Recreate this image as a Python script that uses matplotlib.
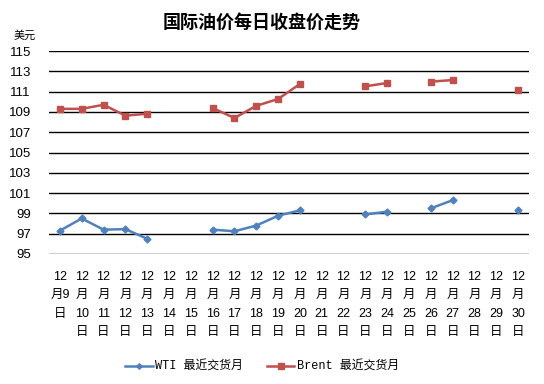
import matplotlib
matplotlib.use("Agg")
import matplotlib.pyplot as plt
import numpy as np

days = list(range(9, 31))
categories = [f"12月{d}日" for d in days]
tick_labels = ["12\n月9\n日"] + [f"12\n月\n{d}\n日" for d in days[1:]]
nan = np.nan
wti = [97.3, 98.5, 97.4, 97.45, 96.5, nan, nan, 97.4, 97.24, 97.8, 98.77, 99.3,
       nan, nan, 98.9, 99.17, nan, 99.5, 100.3, nan, nan, 99.3]
brent = [109.3, 109.3, 109.7, 108.63, 108.82, nan, nan, 109.38, 108.4, 109.6, 110.27, 111.75,
         nan, nan, 111.52, 111.85, nan, 111.98, 112.14, nan, nan, 111.16]
yticks = list(range(95, 116, 2))
series_names = ["WTI 最近交货月", "Brent 最近交货月"]

W, H = 544, 384
fig = plt.figure(figsize=(W / 100, H / 100), dpi=100)
ax = fig.add_axes([49 / W, 1 - 254 / H, 480 / W, 203 / H])

x = np.arange(len(categories))
ax.plot(x, wti, color="#4F81BD", lw=1.8, marker="D", ms=3.5, label=series_names[0])
ax.plot(x, brent, color="#C0504D", lw=1.8, marker="s", ms=5, label=series_names[1])

ax.set_xlim(-0.5, len(categories) - 0.5)
ax.set_ylim(95, 115)
ax.set_yticks(yticks)
ax.set_yticklabels([str(v) for v in yticks], family=["Liberation Sans", "Noto Sans CJK SC"], fontsize=9.5)
ax.yaxis.grid(True, color="black", lw=1)
ax.set_axisbelow(True)
for s in ax.spines.values():
    s.set_visible(False)
ax.tick_params(axis="both", length=0)
ax.tick_params(axis="y", pad=13)
ax.set_xticks(x)
ax.set_xticklabels(tick_labels, family=["Liberation Sans", "Noto Sans CJK SC"], fontsize=9,
                   linespacing=1.73, va="top")
ax.tick_params(axis="x", pad=12)

fig.text(262 / W, 1 - 22 / H, "国际油价每日收盘价走势", ha="center", va="center",
         fontsize=13, fontweight="bold", family=["Noto Sans CJK SC"])
fig.text(25 / W, 1 - 36 / H, "美元", ha="center", va="center", fontsize=8,
         family=["Noto Sans CJK SC"])

leg = fig.legend(loc="center", bbox_to_anchor=(262 / W, 1 - 367 / H), ncol=2, frameon=False,
                 prop={"family": ["Liberation Mono", "Noto Sans CJK SC"], "size": 8.6},
                 handlelength=2.3, columnspacing=2.0, handletextpad=0.2, markerscale=0.8)

fig.savefig("out.png", dpi=100)
